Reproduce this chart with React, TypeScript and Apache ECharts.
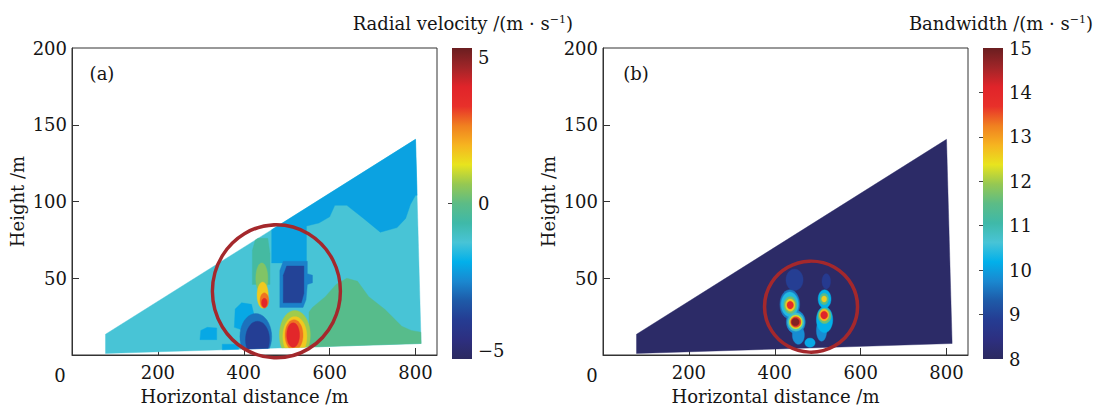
import React, { useEffect, useRef } from 'react';
import * as echarts from 'echarts';

// ---------- colour scale (jet-like, bottom to top) ----------
const jetColors = [
  '#2c2a60', '#2d2f80', '#253c92', '#1e5aa8', '#1a88d0', '#02b0ea', '#48c4d6', '#3fb9a8',
  '#5cbc86', '#96c852', '#e8e41e', '#f6b420', '#f08020', '#e8302a', '#e0242a', '#a02528', '#6a1e20',
];

// ---------- axes ----------
const xTickValues = [200, 400, 600, 800];
const yLabelValues = [50, 100, 150, 200];
const yTickValues = [50, 100, 150];
const velRange = [-5, 5];
const velLabelValues = [-5, 0, 5];
const velTickValues = [0];
const bwRange = [8, 15];
const bwLabelValues = [8, 9, 10, 11, 12, 13, 14, 15];
const bwTickValues = [9, 10, 11, 12, 13, 14];

// ---------- scan area (horizontal distance m, height m) ----------
const wedgeOutline: number[][] = [[78, 1], [813, 7.5], [800, 140.5], [78, 13.5]];

// ---------- (a) radial velocity field ----------
const velBase = -1.25;
// [value, polygon]
const velPolygons: [number, number[][]][] = [
  [-2.1, [[465, 160], [465, 60], [546, 60], [546, 84], [575, 86], [600, 90], [612, 97.5], [640, 97.5], [679, 89], [718, 80], [757, 83], [777, 89], [788, 98], [800, 104], [830, 104], [830, 160]]],
  [-0.1, [[552, -5], [552, 28], [560, 31], [590, 38], [615, 46], [640, 50], [665, 48], [691, 38], [729, 29.6], [768, 18.7], [790, 16], [830, 14], [830, -5]]],
  [-0.5, [[420, 46], [420, 68], [428, 76], [456, 76], [461, 66], [461, 46]]],
  [-2.6, [[484, 31], [484, 55], [492, 61], [548, 61], [548, 53], [560, 52], [560, 47], [548, 46], [545, 36], [538, 31]]],
  [-3.6, [[492, 34], [492, 52], [500, 58], [540, 58], [540, 40], [534, 34]]],
  [-2.0, [[378, 18], [380, 30], [395, 34], [418, 33], [425, 25], [400, 16]]],
  [-2.0, [[298, 10], [300, 16], [315, 18], [337, 17.6], [337, 10]]],
  [-2.0, [[350, -5], [350, 7], [388, 7], [388, -5]]],
];
// [cx, cy, rx, ry, value]
const velBlobs: number[][] = [
  [428, 12, 37, 15, -2.8],
  [432, 10, 28, 12, -3.7],
  [442, 50, 14, 10, 0.4],
  [444, 39, 13, 8.5, 1.6],
  [448, 35.5, 10, 5, 2.6],
  [448, 34, 6.5, 3, 3.6],
  [519, 13, 36, 16, 0.7],
  [519, 12, 28, 13, 1.6],
  [517, 13, 21, 10, 2.6],
  [515, 13, 15, 8, 3.6],
];
const velCircle = [476, 41.5];

// ---------- (b) bandwidth field ----------
const bwBase = 8.1;
const bwBlobs: number[][] = [
  [446, 49, 20, 7, 8.9],
  [520, 48, 10, 5, 8.8],
  [435, 33, 23, 9.5, 9.6],
  [435, 33, 20, 8, 10.4],
  [436, 32.5, 15, 5.5, 11.6],
  [436, 32.5, 11, 4, 12.6],
  [436, 32.5, 7.5, 2.5, 13.9],
  [455, 13, 14, 6, 9.8],
  [449, 21.5, 22, 7.5, 9.8],
  [449, 21.5, 19, 6, 10.8],
  [449, 21.5, 15, 4.5, 12.3],
  [449, 21.5, 12, 3.5, 13.6],
  [448, 21.5, 9, 2.5, 14.8],
  [516, 36.5, 15, 6, 10.2],
  [515, 36.5, 10, 3.8, 11.4],
  [515, 36.5, 6, 2, 12.6],
  [509, 16, 12, 7, 9.8],
  [516, 23, 19, 8.5, 10.2],
  [516, 25.5, 15, 5, 11.6],
  [515, 26, 11, 3.8, 12.8],
  [515, 26, 8, 2.5, 14.1],
  [482, 8, 12, 3, 10.1],
];
const bwCircle = [484.5, 31.5];

// ---------- helpers ----------
const FONT = 'DejaVu Serif';
const TXT = '#151515';
const LINE = '#333';

function ellipsePts(cx: number, cy: number, rx: number, ry: number) {
  const pts: number[][] = [];
  for (let k = 0; k < 40; k++) {
    const t = (2 * Math.PI * k) / 40;
    pts.push([cx + rx * Math.cos(t), cy + ry * Math.sin(t)]);
  }
  return pts;
}

function clipPoly(subject: number[][], clip: number[][]) {
  let out = subject;
  for (let i = 0; i < clip.length; i++) {
    const A = clip[i];
    const B = clip[(i + 1) % clip.length];
    const inp = out;
    out = [];
    if (!inp.length) break;
    const side = (P: number[]) => (B[0] - A[0]) * (P[1] - A[1]) - (B[1] - A[1]) * (P[0] - A[0]);
    for (let j = 0; j < inp.length; j++) {
      const P = inp[j];
      const Q = inp[(j + 1) % inp.length];
      const sp = side(P);
      const sq = side(Q);
      const inter = () => {
        const t = sp / (sp - sq);
        return [P[0] + t * (Q[0] - P[0]), P[1] + t * (Q[1] - P[1])];
      };
      if (sp >= 0) {
        out.push(P);
        if (sq < 0) out.push(inter());
      } else if (sq >= 0) {
        out.push(inter());
      }
    }
  }
  return out;
}

type Shape = { v: number; pts: number[][] };

function buildShapes(base: number, polys: [number, number[][]][], blobs: number[][]): Shape[] {
  const shapes: Shape[] = [{ v: base, pts: wedgeOutline }];
  polys.forEach(([v, pts]) => shapes.push({ v, pts }));
  blobs.forEach(([cx, cy, rx, ry, v]) => shapes.push({ v, pts: ellipsePts(cx, cy, rx, ry) }));
  return shapes;
}

function shapeData(shapes: Shape[]) {
  return shapes.map((s, i) => {
    const cx = s.pts.reduce((a, p) => a + p[0], 0) / s.pts.length;
    const cy = s.pts.reduce((a, p) => a + p[1], 0) / s.pts.length;
    return [cx, cy, s.v, i];
  });
}

function makeRender(shapes: Shape[]) {
  return (params: any, api: any) => {
    const idx = api.value(3);
    const pts = clipPoly(shapes[idx].pts, wedgeOutline);
    if (pts.length < 3) return { type: 'group', children: [] };
    const color = api.visual('color');
    return {
      type: 'polygon',
      shape: { points: pts.map((p) => api.coord(p)) },
      style: { fill: color, stroke: color, lineWidth: 0.4 },
    };
  };
}

function colorbarRender(params: any, api: any) {
  const lo = api.value(1);
  const hi = api.value(2);
  const a = api.coord([0, hi]);
  const b = api.coord([1, lo]);
  const n = jetColors.length;
  return {
    type: 'rect',
    shape: { x: a[0], y: a[1], width: b[0] - a[0], height: b[1] - a[1] },
    style: {
      fill: new echarts.graphic.LinearGradient(0, 1, 0, 0, jetColors.map((c, i) => ({ offset: i / (n - 1), color: c }))),
    },
  };
}

const labelStyle = { fontFamily: FONT, fontSize: 18, color: TXT };
const minusFmt = (v: number) => (v < 0 ? '\u2212' + Math.abs(v) : String(v));

function mainX(gridIndex: number) {
  return {
    gridIndex,
    type: 'value',
    min: 0,
    max: 850,
    interval: 200,
    axisLine: { show: true, onZero: false, lineStyle: { color: LINE, width: 1 } },
    axisTick: { show: true, inside: true, length: 7, customValues: xTickValues, lineStyle: { color: LINE } },
    axisLabel: { ...labelStyle, margin: 8, customValues: xTickValues },
    splitLine: { show: false },
    name: 'Horizontal distance /m',
    nameLocation: 'middle',
    nameGap: 32,
    nameTextStyle: { fontFamily: FONT, fontSize: 18, color: TXT, padding: [0, 20, 0, 0] },
  };
}

function mainY(gridIndex: number) {
  return {
    gridIndex,
    type: 'value',
    min: 0,
    max: 200,
    interval: 50,
    axisLine: { show: true, onZero: false, lineStyle: { color: LINE, width: 1 } },
    axisTick: { show: true, inside: true, length: 7, customValues: yTickValues, lineStyle: { color: LINE } },
    axisLabel: { ...labelStyle, margin: 5, customValues: yLabelValues },
    splitLine: { show: false },
    name: 'Height /m',
    nameLocation: 'middle',
    nameGap: 46,
    nameTextStyle: { fontFamily: FONT, fontSize: 18, color: TXT },
  };
}

function barY(gridIndex: number, range: number[], labels: number[], ticks: number[], interval: number, right: boolean, edgeAlign: boolean) {
  return {
    gridIndex,
    type: 'value',
    min: range[0],
    max: range[1],
    interval,
    position: right ? 'right' : 'left',
    axisLine: { show: false },
    axisTick: { show: true, inside: true, length: 4, customValues: ticks, lineStyle: { color: '#444', width: 1 } },
    axisLabel: right
      ? {
          ...labelStyle,
          margin: 6,
          customValues: labels,
          formatter: minusFmt,
          ...(edgeAlign ? { verticalAlignMinLabel: 'bottom', verticalAlignMaxLabel: 'top' } : {}),
        }
      : { show: false },
    splitLine: { show: false },
  };
}

const velShapes = buildShapes(velBase, velPolygons, velBlobs);
const bwShapes = buildShapes(bwBase, [], [...bwBlobs].sort((a, b) => a[4] - b[4]));

function supTitle(main: string, x: number) {
  return {
    type: 'text',
    x,
    y: 23,
    style: {
      text: `{t|${main}}{s|\u22121}{t|)}`,
      align: 'right',
      verticalAlign: 'middle',
      rich: {
        t: { fontFamily: FONT, fontSize: 18, fill: TXT, color: TXT, verticalAlign: 'middle' },
        s: { fontFamily: FONT, fontSize: 11, fill: TXT, color: TXT, verticalAlign: 'top' },
      },
    },
  };
}

function plainText(text: string, x: number, y: number) {
  return {
    type: 'text',
    x,
    y,
    style: { text, fontFamily: FONT, fontSize: 18, fill: TXT, align: 'center', verticalAlign: 'middle' },
  };
}

export default function App() {
  const ref = useRef<HTMLDivElement>(null);
  useEffect(() => {
    if (!ref.current) return;
    const chart = echarts.init(ref.current, null, { renderer: 'svg' });
    chart.setOption({
      animation: false,
      backgroundColor: '#fff',
      grid: [
        { left: 72, top: 48, width: 365, height: 311, show: true, borderColor: LINE, borderWidth: 1, backgroundColor: 'transparent' },
        { left: 603, top: 48, width: 365, height: 311, show: true, borderColor: LINE, borderWidth: 1, backgroundColor: 'transparent' },
        { left: 452, top: 48, width: 20, height: 311 },
        { left: 983, top: 48, width: 20, height: 311 },
      ],
      xAxis: [
        mainX(0),
        mainX(1),
        { gridIndex: 2, type: 'value', min: 0, max: 1, show: false },
        { gridIndex: 3, type: 'value', min: 0, max: 1, show: false },
      ],
      yAxis: [
        mainY(0),
        mainY(1),
        barY(2, velRange, velLabelValues, velTickValues, 5, true, true),
        barY(3, bwRange, bwLabelValues, bwTickValues, 1, true, false),
        barY(2, velRange, velLabelValues, velTickValues, 5, false, false),
        barY(3, bwRange, bwLabelValues, bwTickValues, 1, false, false),
      ],
      visualMap: [
        { type: 'continuous', show: false, min: velRange[0], max: velRange[1], dimension: 2, seriesIndex: 0, inRange: { color: jetColors } },
        { type: 'continuous', show: false, min: bwRange[0], max: bwRange[1], dimension: 2, seriesIndex: 1, inRange: { color: jetColors } },
      ],
      series: [
        {
          type: 'custom',
          name: 'Radial velocity',
          coordinateSystem: 'cartesian2d',
          xAxisIndex: 0,
          yAxisIndex: 0,
          data: shapeData(velShapes),
          encode: { x: 0, y: 1 },
          renderItem: makeRender(velShapes),
          silent: true,
          z: 2,
        },
        {
          type: 'custom',
          name: 'Bandwidth',
          coordinateSystem: 'cartesian2d',
          xAxisIndex: 1,
          yAxisIndex: 1,
          data: shapeData(bwShapes),
          encode: { x: 0, y: 1 },
          renderItem: makeRender(bwShapes),
          silent: true,
          z: 2,
        },
        {
          type: 'scatter',
          xAxisIndex: 0,
          yAxisIndex: 0,
          data: [velCircle],
          symbol: 'circle',
          symbolSize: [128, 133],
          itemStyle: { color: 'rgba(0,0,0,0)', borderColor: '#a4282c', borderWidth: 3.5, opacity: 1 },
          silent: true,
          z: 5,
        },
        {
          type: 'scatter',
          xAxisIndex: 1,
          yAxisIndex: 1,
          data: [bwCircle],
          symbol: 'circle',
          symbolSize: [93, 91],
          itemStyle: { color: 'rgba(0,0,0,0)', borderColor: '#a4282c', borderWidth: 3.5, opacity: 1 },
          silent: true,
          z: 5,
        },
        {
          type: 'custom',
          coordinateSystem: 'cartesian2d',
          xAxisIndex: 2,
          yAxisIndex: 2,
          data: [[0, velRange[0], velRange[1]]],
          encode: { x: 0, y: 1 },
          renderItem: colorbarRender,
          silent: true,
        },
        {
          type: 'custom',
          coordinateSystem: 'cartesian2d',
          xAxisIndex: 3,
          yAxisIndex: 3,
          data: [[0, bwRange[0], bwRange[1]]],
          encode: { x: 0, y: 1 },
          renderItem: colorbarRender,
          silent: true,
        },
      ],
      graphic: [
        plainText('(a)', 102, 73),
        plainText('(b)', 636, 73),
        plainText('0', 60, 375),
        plainText('0', 592, 375),
        supTitle('Radial velocity /(m \u00b7 s', 573),
        supTitle('Bandwidth /(m \u00b7 s', 1093),
      ],
    });
    return () => chart.dispose();
  }, []);
  return <div ref={ref} style={{ position: 'fixed', left: 0, top: 0, width: 1097, height: 410, background: '#fff' }} />;
}
